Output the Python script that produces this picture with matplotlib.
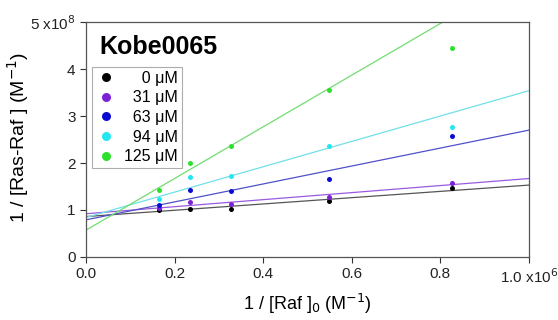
import numpy as np
import matplotlib
matplotlib.use("Agg")
import matplotlib.pyplot as plt
from matplotlib.ticker import FuncFormatter, MultipleLocator

plt.rcParams['font.family'] = ['Liberation Sans', 'DejaVu Sans']

# ---------------- DATA ----------------
# x = 1/[Raf]0 in units of 1e6 M^-1, y = 1/[Ras-Raf] in units of 1e8 M^-1
x_raf = [0.165, 0.236, 0.327, 0.549, 0.826]
# figure spaces (U+2007) pad the labels so they right-align like the original
conc_labels = ["\u2007\u20070 μM", "\u200731 μM", "\u200763 μM", "\u200794 μM", "125 μM"]
y_0 = [1.00, 1.03, 1.03, 1.20, 1.46]
y_31 = [1.05, 1.18, 1.13, 1.28, 1.57]
y_63 = [1.10, 1.43, 1.40, 1.65, 2.57]
y_94 = [1.23, 1.70, 1.72, 2.36, 2.76]
y_125 = [1.43, 1.99, 2.36, 3.55, 4.45]
series = [y_0, y_31, y_63, y_94, y_125]

# fitted lines (global fit drawn in the original): intercept, slope
fit_intercept = [0.86, 0.92, 0.79, 0.84, 0.57]
fit_slope = [0.67, 0.75, 1.91, 2.70, 5.50]

colors = ["#000000", "#7b22d8", "#0a0ad0", "#22e6f0", "#2ee02e"]
line_colors = ["#555555", "#9a5ae0", "#5050c8", "#70e0e8", "#70dd70"]

# ---------------- PLOT ----------------
fig = plt.figure(figsize=(5.58, 3.2), dpi=100)
ax = fig.add_axes([0.154, 0.197, 0.794, 0.734])

xl = np.array([0.0, 1.0])
for i in range(len(series)):
    ax.plot(xl, fit_intercept[i] + fit_slope[i] * xl, color=line_colors[i], lw=0.9, zorder=2)
for i in range(len(series)):
    ax.plot(x_raf, series[i], 'o', color=colors[i], ms=3.6, mec='none', zorder=3,
            label=conc_labels[i])

ax.set_xlim(0, 1.0)
ax.set_ylim(0, 5)
ax.xaxis.set_major_locator(MultipleLocator(0.2))
ax.yaxis.set_major_locator(MultipleLocator(1))

def xfmt(v, pos):
    if abs(v - 1.0) < 1e-6:
        return "1.0 x10$^{6}$"
    return "%.1f" % v

def yfmt(v, pos):
    if abs(v - 5) < 1e-6:
        return "5 x10$^{8}$"
    return "%d" % round(v)

ax.xaxis.set_major_formatter(FuncFormatter(xfmt))
ax.yaxis.set_major_formatter(FuncFormatter(yfmt))
ax.tick_params(direction='out', length=4, width=0.8, labelsize=11, colors='#333333',
               labelcolor='#222222')
for s in ax.spines.values():
    s.set_color('#555555')
    s.set_linewidth(0.9)

ax.set_xlabel("1 / [Raf ]$_0$ (M$^{-1}$)", fontsize=13, labelpad=4)
ax.set_ylabel("1 / [Ras-Raf ] (M$^{-1}$)", fontsize=14)
ax.yaxis.set_label_coords(-0.124, 0.51)

ax.text(0.03, 0.895, "Kobe0065", transform=ax.transAxes, fontsize=18,
        fontweight='bold', va='center', ha='left')

leg = ax.legend(loc='upper left', bbox_to_anchor=(0.013, 0.81), fontsize=11.5,
                frameon=True, fancybox=False, markerscale=1.8, handletextpad=0.45,
                borderpad=0.25, labelspacing=0.29, handlelength=1.3, borderaxespad=0)
leg.get_frame().set_edgecolor('#999999')
leg.get_frame().set_linewidth(0.8)

fig.savefig("out.png", dpi=100)
